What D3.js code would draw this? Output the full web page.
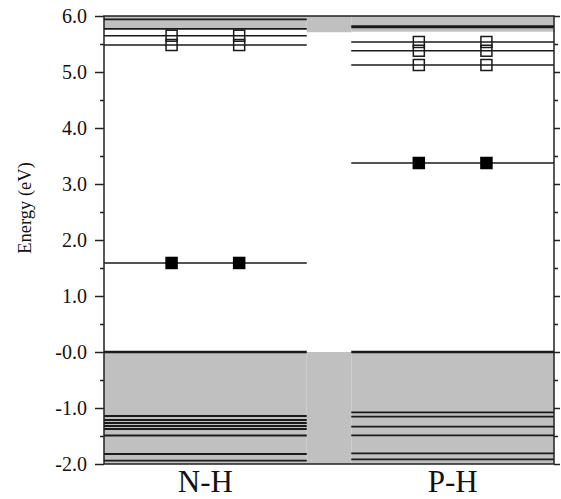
<!DOCTYPE html>
<html>
<head>
<meta charset="utf-8">
<script src="https://cdn.jsdelivr.net/npm/d3@7/dist/d3.min.js"></script>
<style>
  html, body { margin: 0; padding: 0; background: #fff; }
  svg { display: block; }
</style>
</head>
<body>
<svg id="chart" width="561" height="499"></svg>
<script>
// ---- data ----
const categories = ["N-H", "P-H"];
const yMajorTicks = [-2, -1, 0, 1, 2, 3, 4, 5, 6];
const yTickLabels = ["-2.0", "-1.0", "-0.0", "1.0", "2.0", "3.0", "4.0", "5.0", "6.0"];
const yMinorTicks = [-1.5, -0.5, 0.5, 1.5, 2.5, 3.5, 4.5, 5.5];

const vbTop = 0.0;                    // valence band maximum
const cbBottomNH = 5.77;              // conduction band edge, N-H
const cbBottomPH = 5.72;              // conduction band edge, P-H
const cbBottomGap = 5.71;             // bulk reference between panels

const vbLevelsNH = [-1.143, -1.214, -1.268, -1.321, -1.375, -1.491, -1.821, -1.938];
const vbLevelsPH = [-1.077, -1.155, -1.333, -1.488, -1.81, -1.917];
const cbLevelsNH = [5.94, 5.77];
const cbLevelsPH = [5.81];
const occupiedNH = [1.59];
const occupiedPH = [3.375];
const emptyNH = [5.648, 5.482];
const emptyPH = [5.536, 5.38, 5.125];

// ---- layout ----
const svg = d3.select("#chart");
const L = 104, R = 554, T = 16, B = 464;
const x = d3.scaleBand().domain(categories).range([L, R]).paddingInner(0.18).paddingOuter(0);
const y = d3.scaleLinear().domain([-2, 6]).range([B, T]);
const bw = x.bandwidth();
const serif = "'Liberation Serif','Times New Roman',Times,serif";
const gray = "#c0c0c0";
const ink = "#1a1a1a";

const panels = [
  { cat: "N-H", cb: cbBottomNH, vb: vbLevelsNH, cbl: cbLevelsNH, occ: occupiedNH, emp: emptyNH },
  { cat: "P-H", cb: cbBottomPH, vb: vbLevelsPH, cbl: cbLevelsPH, occ: occupiedPH, emp: emptyPH }
];

const g = svg.append("g");

// gap region bands (between panels)
const gapX0 = x("N-H") + bw, gapX1 = x("P-H");
g.append("rect").attr("x", gapX0).attr("width", gapX1 - gapX0)
  .attr("y", y(6)).attr("height", y(cbBottomGap) - y(6)).attr("fill", gray);
g.append("rect").attr("x", gapX0).attr("width", gapX1 - gapX0)
  .attr("y", y(vbTop)).attr("height", y(-2) - y(vbTop)).attr("fill", gray);

panels.forEach(p => {
  const x0 = x(p.cat), x1 = x0 + bw;
  // conduction band
  g.append("rect").attr("x", x0).attr("width", bw)
    .attr("y", y(6)).attr("height", y(p.cb) - y(6)).attr("fill", gray);
  // valence band
  g.append("rect").attr("x", x0).attr("width", bw)
    .attr("y", y(vbTop)).attr("height", y(-2) - y(vbTop)).attr("fill", gray);

  // VBM line
  g.append("line").attr("x1", x0).attr("x2", x1).attr("y1", y(vbTop)).attr("y2", y(vbTop))
    .attr("stroke", ink).attr("stroke-width", 2.4);

  // valence band levels
  g.selectAll(null).data(p.vb).enter().append("line")
    .attr("x1", x0).attr("x2", x1).attr("y1", d => y(d)).attr("y2", d => y(d))
    .attr("stroke", ink).attr("stroke-width", 1.8);

  // conduction band levels
  g.selectAll(null).data(p.cbl).enter().append("line")
    .attr("x1", x0).attr("x2", x1).attr("y1", d => y(d)).attr("y2", d => y(d))
    .attr("stroke", ink).attr("stroke-width", p.cat === "P-H" ? 3 : 1.6);

  // defect levels (lines)
  const defects = p.occ.concat(p.emp);
  g.selectAll(null).data(defects).enter().append("line")
    .attr("x1", x0).attr("x2", x1).attr("y1", d => y(d)).attr("y2", d => y(d))
    .attr("stroke", ink).attr("stroke-width", 1.5);

  const mx = [x0 + bw / 3, x0 + 2 * bw / 3];
  const s = 12.5;
  // occupied: filled squares
  p.occ.forEach(v => mx.forEach(cx => {
    g.append("rect").attr("x", cx - s / 2).attr("y", y(v) - s / 2)
      .attr("width", s).attr("height", s).attr("fill", "#000");
  }));
  // unoccupied: open squares
  p.emp.forEach(v => mx.forEach(cx => {
    g.append("rect").attr("x", cx - s / 2 + 0.75).attr("y", y(v) - s / 2 + 0.75)
      .attr("width", s - 1.5).attr("height", s - 1.5)
      .attr("fill", "none").attr("stroke", ink).attr("stroke-width", 1.5);
  }));
});

// ---- frame & axes ----
svg.append("rect").attr("x", L).attr("y", T).attr("width", R - L).attr("height", B - T)
  .attr("fill", "none").attr("stroke", "#222").attr("stroke-width", 1.5);

const leftMajor = d3.axisLeft(y).tickValues(yMajorTicks).tickSize(9).tickPadding(8)
  .tickFormat((d, i) => yTickLabels[i]);
const leftMinor = d3.axisLeft(y).tickValues(yMinorTicks).tickSize(4).tickFormat("");
const rightMajor = d3.axisRight(y).tickValues(yMajorTicks).tickSize(6).tickFormat("");
const rightMinor = d3.axisRight(y).tickValues(yMinorTicks).tickSize(4).tickFormat("");

function styleAxis(sel) {
  sel.attr("font-family", null).attr("font-size", null);
  sel.select(".domain").remove();
  sel.selectAll(".tick line").attr("stroke", "#222").attr("stroke-width", 1.5);
  sel.selectAll(".tick text").attr("fill", "#111")
    .style("font-family", serif).style("font-size", "20px");
}
svg.append("g").attr("transform", `translate(${L},0)`).call(leftMajor).call(styleAxis);
svg.append("g").attr("transform", `translate(${L},0)`).call(leftMinor).call(styleAxis);
svg.append("g").attr("transform", `translate(${R},0)`).call(rightMajor).call(styleAxis);
svg.append("g").attr("transform", `translate(${R},0)`).call(rightMinor).call(styleAxis);

// category labels
svg.selectAll(null).data(categories).enter().append("text")
  .attr("x", d => x(d) + bw / 2).attr("y", 492)
  .attr("text-anchor", "middle")
  .style("font-family", serif).style("font-size", "31px").attr("fill", "#111")
  .text(d => d);

// y label
svg.append("text")
  .attr("transform", `translate(31,${208}) rotate(-90)`)
  .attr("text-anchor", "middle")
  .style("font-family", serif).style("font-size", "18.5px").attr("fill", "#111")
  .text("Energy (eV)");
</script>
</body>
</html>
